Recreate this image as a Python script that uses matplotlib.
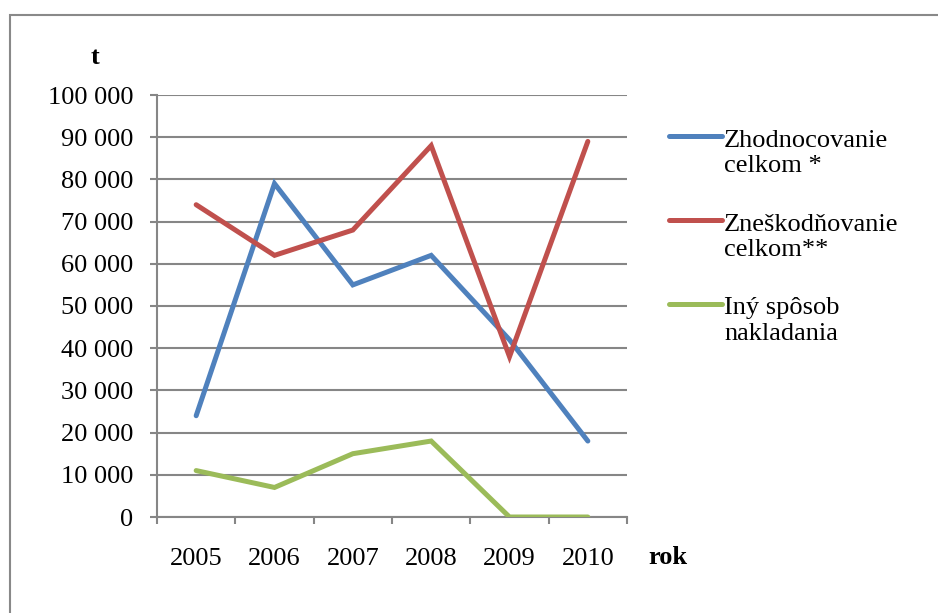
import numpy as np
import matplotlib
matplotlib.use("Agg")
import matplotlib.pyplot as plt
from matplotlib.legend_handler import HandlerLine2D
from matplotlib.patches import Rectangle

years = ["2005", "2006", "2007", "2008", "2009", "2010"]
zhodnocovanie = [24000, 79000, 55000, 62000, 42000, 18000]
zneskodnovanie = [74000, 62000, 68000, 88000, 38000, 89000]
iny_sposob = [11000, 7000, 15000, 18000, 0, 0]
series_labels = ["Zhodnocovanie\ncelkom *", "Zneškodňovanie\ncelkom**", "Iný spôsob\nnakladania"]
y_ticks = [0, 10000, 20000, 30000, 40000, 50000, 60000, 70000, 80000, 90000, 100000]

plt.rcParams['font.family'] = ['Liberation Serif', 'DejaVu Serif']

W, H = 938, 613
FS = 19
fig = plt.figure(figsize=(W / 100, H / 100), dpi=100)
fig.patch.set_facecolor("white")

# outer chart border (top and left visible)
fig.patches.append(Rectangle((10 / W, -0.1), 1.2, (H - 15) / H + 0.1,
                             transform=fig.transFigure, fill=False,
                             edgecolor="#898989", linewidth=1.5))

ax = fig.add_axes([157 / W, (H - 517) / H, (627 - 157) / W, (517 - 95) / H])
x = np.arange(len(years))
colors = ["#4F81BD", "#C0504D", "#9BBB59"]
lines = []
for vals, c, lab in zip([zhodnocovanie, zneskodnovanie, iny_sposob], colors, series_labels):
    ln, = ax.plot(x, vals, color=c, linewidth=3.6, solid_capstyle="round",
                  solid_joinstyle="miter", label=lab, zorder=3)
    lines.append(ln)

ax.set_xlim(-0.5, len(years) - 0.5)
ax.set_ylim(0, 100000)
ax.set_yticks(y_ticks)
ax.set_yticklabels([f"{v:,}".replace(",", " ") for v in y_ticks], fontsize=FS)
ax.set_xticks(x)
ax.set_xticklabels(years, fontsize=FS)
ax.set_xticks(np.arange(-0.5, len(years)), minor=True)
ax.tick_params(axis="x", which="major", length=0, pad=22)
ax.tick_params(axis="x", which="minor", length=5, width=1.5, color="#868686", direction="out")
ax.tick_params(axis="y", length=5, width=1.5, color="#868686", pad=12)
ax.yaxis.grid(True, color="#868686", linewidth=1.5)
ax.set_axisbelow(True)
for s in ["top", "right"]:
    ax.spines[s].set_visible(False)
ax.spines["left"].set_color("#868686")
ax.spines["left"].set_linewidth(1.5)
ax.spines["bottom"].set_color("#868686")
ax.spines["bottom"].set_linewidth(1.5)

fig.text(95 / W, 1 - 57 / H, "t", fontsize=FS, fontweight="bold", ha="center", va="center")
fig.text(668 / W, 1 - 558 / H, "rok", fontsize=FS, fontweight="bold", ha="center", va="center")


class UpHandler(HandlerLine2D):
    def __init__(self, dy, **kw):
        super().__init__(**kw)
        self.dy = dy

    def create_artists(self, legend, orig_handle, xdescent, ydescent, width, height, fontsize, trans):
        arts = super().create_artists(legend, orig_handle, xdescent, ydescent, width, height, fontsize, trans)
        for a in arts:
            a.set_ydata(np.asarray(a.get_ydata(), dtype=float) + self.dy)
        return arts


leg = fig.legend(handles=lines, labels=series_labels, loc="upper left",
                 bbox_to_anchor=(645 / W, 1 - 106 / H), frameon=False,
                 prop={"family": ["Liberation Serif", "DejaVu Serif"], "size": FS},
                 handlelength=2.0, handletextpad=0.1, labelspacing=1.38,
                 handler_map={ln: UpHandler(dy=12, marker_pad=0) for ln in lines})

fig.savefig("out.png", dpi=100)
